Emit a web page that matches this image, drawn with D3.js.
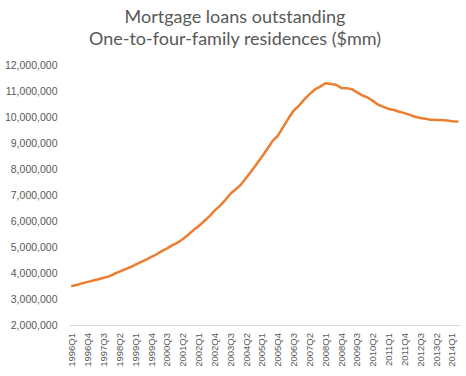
<!DOCTYPE html>
<html>
<head>
<meta charset="utf-8">
<script src="https://cdn.jsdelivr.net/npm/d3@7"></script>
<style>
  body { margin: 0; background: #ffffff; }
</style>
</head>
<body>
<div id="chart"></div>
<script>
/**
 * Data
 */
const quarters = [
  "1996Q1","1996Q2","1996Q3","1996Q4","1997Q1","1997Q2","1997Q3","1997Q4",
  "1998Q1","1998Q2","1998Q3","1998Q4","1999Q1","1999Q2","1999Q3","1999Q4",
  "2000Q1","2000Q2","2000Q3","2000Q4","2001Q1","2001Q2","2001Q3","2001Q4",
  "2002Q1","2002Q2","2002Q3","2002Q4","2003Q1","2003Q2","2003Q3","2003Q4",
  "2004Q1","2004Q2","2004Q3","2004Q4","2005Q1","2005Q2","2005Q3","2005Q4",
  "2006Q1","2006Q2","2006Q3","2006Q4","2007Q1","2007Q2","2007Q3","2007Q4",
  "2008Q1","2008Q2","2008Q3","2008Q4","2009Q1","2009Q2","2009Q3","2009Q4",
  "2010Q1","2010Q2","2010Q3","2010Q4","2011Q1","2011Q2","2011Q3","2011Q4",
  "2012Q1","2012Q2","2012Q3","2012Q4","2013Q1","2013Q2","2013Q3","2013Q4",
  "2014Q1","2014Q2"
];

const loans = [
  3500000, 3550000, 3610000, 3660000, 3710000, 3760000, 3820000, 3870000,
  3970000, 4050000, 4140000, 4220000, 4320000, 4420000, 4510000, 4620000,
  4720000, 4840000, 4950000, 5070000, 5170000, 5310000, 5470000, 5650000,
  5810000, 5990000, 6180000, 6400000, 6580000, 6800000, 7050000, 7220000,
  7400000, 7660000, 7920000, 8200000, 8480000, 8780000, 9080000, 9280000,
  9620000, 9950000, 10250000, 10440000, 10680000, 10880000, 11060000, 11170000,
  11300000, 11270000, 11240000, 11120000, 11110000, 11070000, 10950000, 10830000,
  10750000, 10620000, 10470000, 10390000, 10310000, 10270000, 10200000, 10150000,
  10080000, 10010000, 9960000, 9930000, 9890000, 9880000, 9880000, 9870000,
  9840000, 9830000
];

const yTicks = [2000000, 3000000, 4000000, 5000000, 6000000, 7000000,
  8000000, 9000000, 10000000, 11000000, 12000000];

const titleLines = ["Mortgage loans outstanding", "One-to-four-family residences ($mm)"];

/**
 * Basic Settings
 */
const canvasWidth = 466;
const canvasHeight = 376;
const plotLeft = 69.5;
const plotRight = 460;
const plotTop = 65;
const plotBottom = 325;

const svg = d3.select("#chart")
  .append("svg")
  .attr("width", canvasWidth)
  .attr("height", canvasHeight)
  .style("background", "#ffffff");

/**
 * Scale
 */
const xScale = d3.scaleBand()
  .domain(quarters)
  .range([plotLeft, plotRight]);

const yScale = d3.scaleLinear()
  .domain([2000000, 12000000])
  .range([plotBottom, plotTop]);

/**
 * Title
 */
svg.append("g")
  .selectAll("text")
  .data(titleLines)
  .enter()
  .append("text")
  .attr("x", 235)
  .attr("y", function(d, i) { return 23 + i * 21.5; })
  .attr("text-anchor", "middle")
  .style("font-family", "Lato, 'Open Sans', sans-serif")
  .style("font-size", "18px")
  .style("fill", "#595959")
  .text(function(d) { return d; });

/**
 * Axis
 */
const yAxis = d3.axisLeft(yScale)
  .tickValues(yTicks)
  .tickSize(0)
  .tickPadding(12)
  .tickFormat(d3.format(","));

svg.append("g")
  .attr("class", "y-axis")
  .attr("transform", "translate(" + plotLeft + ", 0)")
  .call(yAxis)
  .call(function(g) { g.select(".domain").remove(); })
  .selectAll("text")
  .style("font-family", "'Liberation Sans', Arial, sans-serif")
  .style("font-size", "10.5px")
  .style("fill", "#595959");

const xAxis = d3.axisBottom(xScale)
  .tickValues(quarters.filter(function(d, i) { return i % 3 === 0; }))
  .tickSize(0)
  .tickSizeOuter(0);

const xAxisG = svg.append("g")
  .attr("class", "x-axis")
  .attr("transform", "translate(0, " + plotBottom + ")")
  .call(xAxis);

xAxisG.select(".domain")
  .attr("stroke", "#d9d9d9")
  .attr("stroke-width", 1);

xAxisG.selectAll("text")
  .attr("transform", "rotate(-90)")
  .attr("x", -8)
  .attr("y", 0)
  .attr("dy", "0.35em")
  .attr("text-anchor", "end")
  .style("font-family", "'Liberation Sans', Arial, sans-serif")
  .style("font-size", "9.5px")
  .style("fill", "#595959");

/**
 * Line
 */
const lineShape = d3.line()
  .x(function(d, i) { return xScale(quarters[i]) + xScale.bandwidth() / 2; })
  .y(function(d) { return yScale(d); });

svg.append("path")
  .datum(loans)
  .attr("d", lineShape)
  .style("fill", "none")
  .style("stroke", "#ed7d31")
  .style("stroke-width", 2.5)
  .style("stroke-linejoin", "round")
  .style("stroke-linecap", "round");
</script>
</body>
</html>
